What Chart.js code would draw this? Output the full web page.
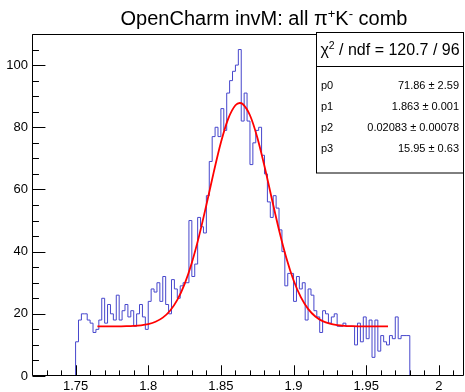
<!DOCTYPE html>
<html><head><meta charset="utf-8">
<script src="https://cdn.jsdelivr.net/npm/chart.js@4.4.0/dist/chart.umd.min.js"></script>
<style>html,body{margin:0;padding:0;background:#fff}#wrap{width:465px;height:392px;position:relative}</style>
</head><body><div id="wrap"><canvas id="c" width="465" height="392"></canvas></div>
<script>
// ---- data ----
const binLow = 1.75;
const binWidth = 0.002;
const counts = [11,18,20,20,18,17,14,15,18,25,
  17,23,20,18,26,18,21,23,19,21,
  16,20,23,19,15,24,28,27,30,24,
  32,23,20,31,28,25,29,30,30,50,
  32,36,51,48,46,58,69,77,80,77,
  86,79,91,95,98,100,105,82,91,82,
  68,75,79,80,71,65,56,51,58,54,
  47,40,29,33,33,24,32,28,30,18,
  28,26,21,19,14,21,20,17,19,20,
  16,16,17,16,16,16,10,17,11,19,
  12,18,6,18,8,13,11,10,13,12,
  19,12,13,13,13];
const fitX = [1.765,1.770,1.775,1.780,1.785,1.790,1.795,1.800,1.805,1.810,1.815,1.820,1.825,1.830,1.835,1.840,1.845,1.850,1.855,1.860,1.863,1.865,1.870,1.875,1.880,1.885,1.890,1.895,1.900,1.905,1.910,1.915,1.920,1.925,1.930,1.935,1.940,1.945,1.950,1.955,1.960,1.965];
const fitY = [15.95,15.95,15.96,15.98,16.01,16.10,16.30,16.69,17.44,18.77,21.00,24.48,29.56,36.44,45.07,55.01,65.42,75.09,82.70,87.07,87.81,87.48,83.87,76.82,67.46,57.09,46.97,38.03,30.79,25.36,21.59,19.14,17.65,16.81,16.36,16.13,16.03,15.98,15.96,15.95,15.95,15.95];
const xTicks = [1.75,1.8,1.85,1.9,1.95,2];
const yTicks = [0,20,40,60,80,100];
const xRange = [1.72, 2.0173];
const yRange = [0, 110];
const titleParts = [["OpenCharm invM: all \u03c0",0],["+",1],["K",0],["-",1],[" comb",0]];
const chi2Parts = [["\u03c7",0],["2",1],[" / ndf = 120.7 / 96",0]];
const statLabels = ["p0","p1","p2","p3"];
const statValues = ["71.86 \u00b1 2.59","1.863 \u00b1 0.001","0.02083 \u00b1 0.00078","15.95 \u00b1 0.63"];

// ---- build datasets ----
const histPts = [{x: binLow, y: 0}];
counts.forEach((c,i)=>histPts.push({x: binLow + i*binWidth, y: c}));
histPts.push({x: binLow + counts.length*binWidth, y: 0});
const fitPts = fitX.map((x,i)=>({x, y: fitY[i]}));

const FONT = "'Liberation Sans', Arial, Helvetica, sans-serif";

function drawParts(ctx, parts, cx, baseline, size, supSize, supRaise){
  let w = 0;
  parts.forEach(([t,s])=>{ctx.font = (s?supSize:size)+"px "+FONT; w += ctx.measureText(t).width;});
  let x = cx - w/2;
  ctx.textAlign = 'left'; ctx.textBaseline = 'alphabetic';
  parts.forEach(([t,s])=>{
    ctx.font = (s?supSize:size)+"px "+FONT;
    ctx.fillText(t, x, baseline - (s?supRaise:0));
    x += ctx.measureText(t).width;
  });
}

const rootDeco = {
  id: 'rootDeco',
  afterDraw(chart){
    const ctx = chart.ctx, a = chart.chartArea;
    const xs = chart.scales.x, ys = chart.scales.y;
    ctx.save();
    ctx.strokeStyle = '#000'; ctx.lineWidth = 1;
    const L = Math.round(a.left)+0.5, R = Math.round(a.right)-0.5, T = Math.round(a.top)+0.5, B = Math.round(a.bottom)-0.5;
    ctx.beginPath(); ctx.rect(L, T, R-L, B-T); ctx.stroke();
    const H = B - T, W = R - L;
    ctx.beginPath();
    for (let k = 172; k <= 201; k++){
      const v = k/100; const px = Math.round(xs.getPixelForValue(v))+0.5;
      const len = (k % 5 === 0) ? 0.03*H : 0.015*H;
      ctx.moveTo(px, B); ctx.lineTo(px, B - len);
    }
    for (let v = 0; v <= 110; v += 5){
      const py = Math.round(ys.getPixelForValue(v))+0.5;
      const len = (v % 20 === 0) ? 0.03*W : 0.015*W;
      ctx.moveTo(L, py); ctx.lineTo(L + len, py);
    }
    ctx.stroke();
    // title
    ctx.fillStyle = '#000';
    drawParts(ctx, titleParts, 264, 25, 20, 13, 7);
    // stats box
    const bx = 316.5, by = 32.5, bw = 147, bh = 140.5;
    ctx.fillStyle = '#fff'; ctx.fillRect(bx, by, bw, bh);
    ctx.strokeStyle = '#000'; ctx.strokeRect(bx, by, bw, bh);
    ctx.beginPath(); ctx.moveTo(bx, 66.5); ctx.lineTo(bx+bw, 66.5); ctx.stroke();
    ctx.fillStyle = '#000';
    drawParts(ctx, chi2Parts, bx + bw/2, 55, 16, 10.5, 6);
    ctx.font = "11px " + FONT; ctx.textBaseline = 'middle';
    const rowY = [86, 107, 128, 149];
    statLabels.forEach((l,i)=>{
      ctx.textAlign = 'left'; ctx.fillText(l, 321, rowY[i]);
      ctx.textAlign = 'right'; ctx.fillText(statValues[i], 459, rowY[i]);
    });
    ctx.restore();
  }
};

new Chart(document.getElementById('c'), {
  type: 'line',
  data: { datasets: [
    { data: histPts, stepped: true, borderColor: '#4646cc', borderWidth: 1, pointRadius: 0, fill: false, order: 2 },
    { data: fitPts, borderColor: '#ff0000', borderWidth: 1.8, pointRadius: 0, cubicInterpolationMode: 'monotone', fill: false, order: 1 }
  ]},
  options: {
    responsive: false, animation: false, devicePixelRatio: 1,
    layout: { padding: { top: 34, right: 1, left: 0, bottom: 0 } },
    plugins: { legend: { display: false }, title: { display: false }, tooltip: { enabled: false } },
    scales: {
      x: { type: 'linear', min: xRange[0], max: xRange[1],
        grid: { display: false, drawTicks: false }, border: { display: false },
        afterBuildTicks: s => { s.ticks = xTicks.map(v=>({value:v})); },
        afterFit: s => { s.height = 16; },
        ticks: { autoSkip: false, maxRotation: 0, padding: 3, color: '#000', font: { family: FONT, size: 13 },
          callback: v => String(+(+v).toFixed(2)) } },
      y: { min: yRange[0], max: yRange[1],
        grid: { display: false, drawTicks: false }, border: { display: false },
        afterBuildTicks: s => { s.ticks = yTicks.map(v=>({value:v})); },
        afterFit: s => { s.width = 32; },
        ticks: { padding: 4, color: '#000', font: { family: FONT, size: 13 } } }
    }
  },
  plugins: [rootDeco]
});
</script></body></html>
